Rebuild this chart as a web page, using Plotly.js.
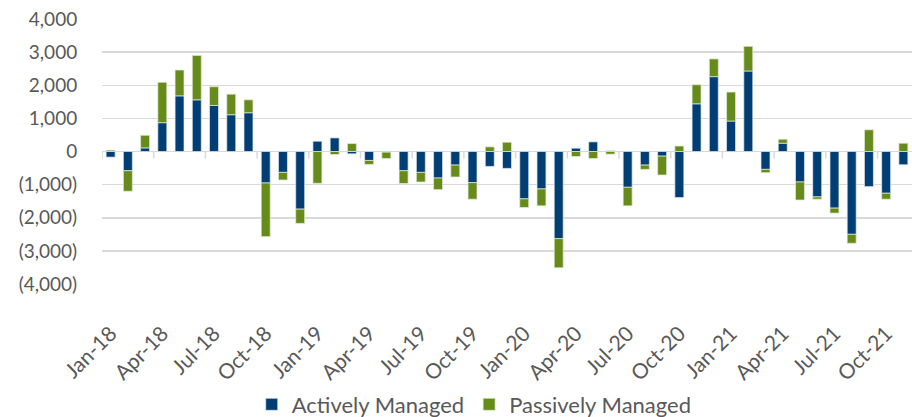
<!DOCTYPE html>
<html>
<head>
<meta charset="utf-8">
<script src="https://cdn.plot.ly/plotly-3.0.1.min.js"></script>
<style>html,body{margin:0;padding:0;background:#fff;}#chart{width:912px;height:417px;}</style>
</head>
<body>
<div id="chart"></div>
<script>
const months = [
  "Jan-18","Feb-18","Mar-18","Apr-18","May-18","Jun-18","Jul-18","Aug-18","Sep-18","Oct-18","Nov-18","Dec-18",
  "Jan-19","Feb-19","Mar-19","Apr-19","May-19","Jun-19","Jul-19","Aug-19","Sep-19","Oct-19","Nov-19","Dec-19",
  "Jan-20","Feb-20","Mar-20","Apr-20","May-20","Jun-20","Jul-20","Aug-20","Sep-20","Oct-20","Nov-20","Dec-20",
  "Jan-21","Feb-21","Mar-21","Apr-21","May-21","Jun-21","Jul-21","Aug-21","Sep-21","Oct-21","Nov-21"
];
const activelyManaged = [
  -170, -580, 110, 870, 1680, 1560, 1390, 1110, 1170, -950, -630, -1740,
  310, 410, -70, -270, -20, -580, -630, -800, -410, -940, -450, -510,
  -1430, -1130, -2630, 100, 290, 20, -1080, -410, -140, -1390, 1440, 2260,
  920, 2430, -540, 250, -920, -1370, -1710, -2500, -1060, -1260, -400
];
const passivelyManaged = [
  40, -620, 380, 1220, 780, 1340, 565, 620, 390, -1620, -230, -430,
  -960, -90, 240, -120, -190, -385, -290, -350, -360, -500, 140, 280,
  -260, -510, -880, -150, -210, -80, -560, -130, -570, 165, 575, 535,
  875, 745, -100, 120, -545, -70, -150, -270, 655, -180, 250
];
const yTickValues = [-4000, -3000, -2000, -1000, 0, 1000, 2000, 3000, 4000];

function fmt(v) {
  const s = Math.abs(v).toLocaleString("en-US");
  return v < 0 ? "(" + s + ")" : s;
}
const yTickText = yTickValues.map(fmt);
const xTickVals = months.filter((m, i) => i % 3 === 0);

const font = "Lato, 'Open Sans', sans-serif";
const textColor = "#595959";
const gridColor = "#d9d9d9";

const traces = [
  {
    type: "bar", name: "Actively Managed", x: months, y: activelyManaged,
    marker: { color: "#003e74", line: { color: "rgba(220,230,240,0.9)", width: 0.8 } },
    hoverinfo: "x+y+name"
  },
  {
    type: "bar", name: "Passively Managed", x: months, y: passivelyManaged,
    marker: { color: "#678b1a", line: { color: "rgba(225,235,215,0.9)", width: 0.8 } },
    hoverinfo: "x+y+name"
  }
];

const tickShapes = [];
for (let i = 0; i <= months.length; i += 3) {
  tickShapes.push({
    type: "line", xref: "x", yref: "y", x0: i - 0.5, x1: i - 0.5,
    ysizemode: "pixel", yanchor: 0, y0: 0, y1: -7,
    line: { color: gridColor, width: 1.5 }, layer: "below"
  });
}

const layout = {
  width: 912, height: 417,
  margin: { l: 102, r: 0, t: 19, b: 133, autoexpand: false },
  paper_bgcolor: "#ffffff", plot_bgcolor: "#ffffff",
  barmode: "relative", bargap: 0.48,
  font: { family: font, color: textColor, size: 19 },
  showlegend: true,
  legend: {
    orientation: "h", xref: "container", yref: "container",
    x: 0.52, xanchor: "center", y: 0.03, yanchor: "middle",
    font: { family: font, size: 22, color: textColor }, traceorder: "normal"
  },
  xaxis: {
    type: "category", range: [-0.5, months.length - 0.5], automargin: false,
    tickmode: "array", tickvals: xTickVals, ticktext: xTickVals,
    tickangle: -45, showgrid: false, zeroline: false, showline: false,
    ticks: "outside", ticklen: 28, tickcolor: "rgba(0,0,0,0)",
    tickfont: { family: font, size: 21, color: textColor }, fixedrange: true
  },
  yaxis: {
    range: [-4000, 4000], automargin: false,
    tickmode: "array", tickvals: yTickValues, ticktext: yTickText,
    showgrid: true, gridcolor: gridColor, gridwidth: 1.5,
    zeroline: true, zerolinecolor: gridColor, zerolinewidth: 1.5,
    showline: false, ticks: "outside", ticklen: 20, tickcolor: "rgba(0,0,0,0)",
    tickfont: { family: font, size: 19, color: textColor }, fixedrange: true
  },
  shapes: tickShapes
};

Plotly.newPlot("chart", traces, layout, { displayModeBar: false, staticPlot: true });
</script>
</body>
</html>
